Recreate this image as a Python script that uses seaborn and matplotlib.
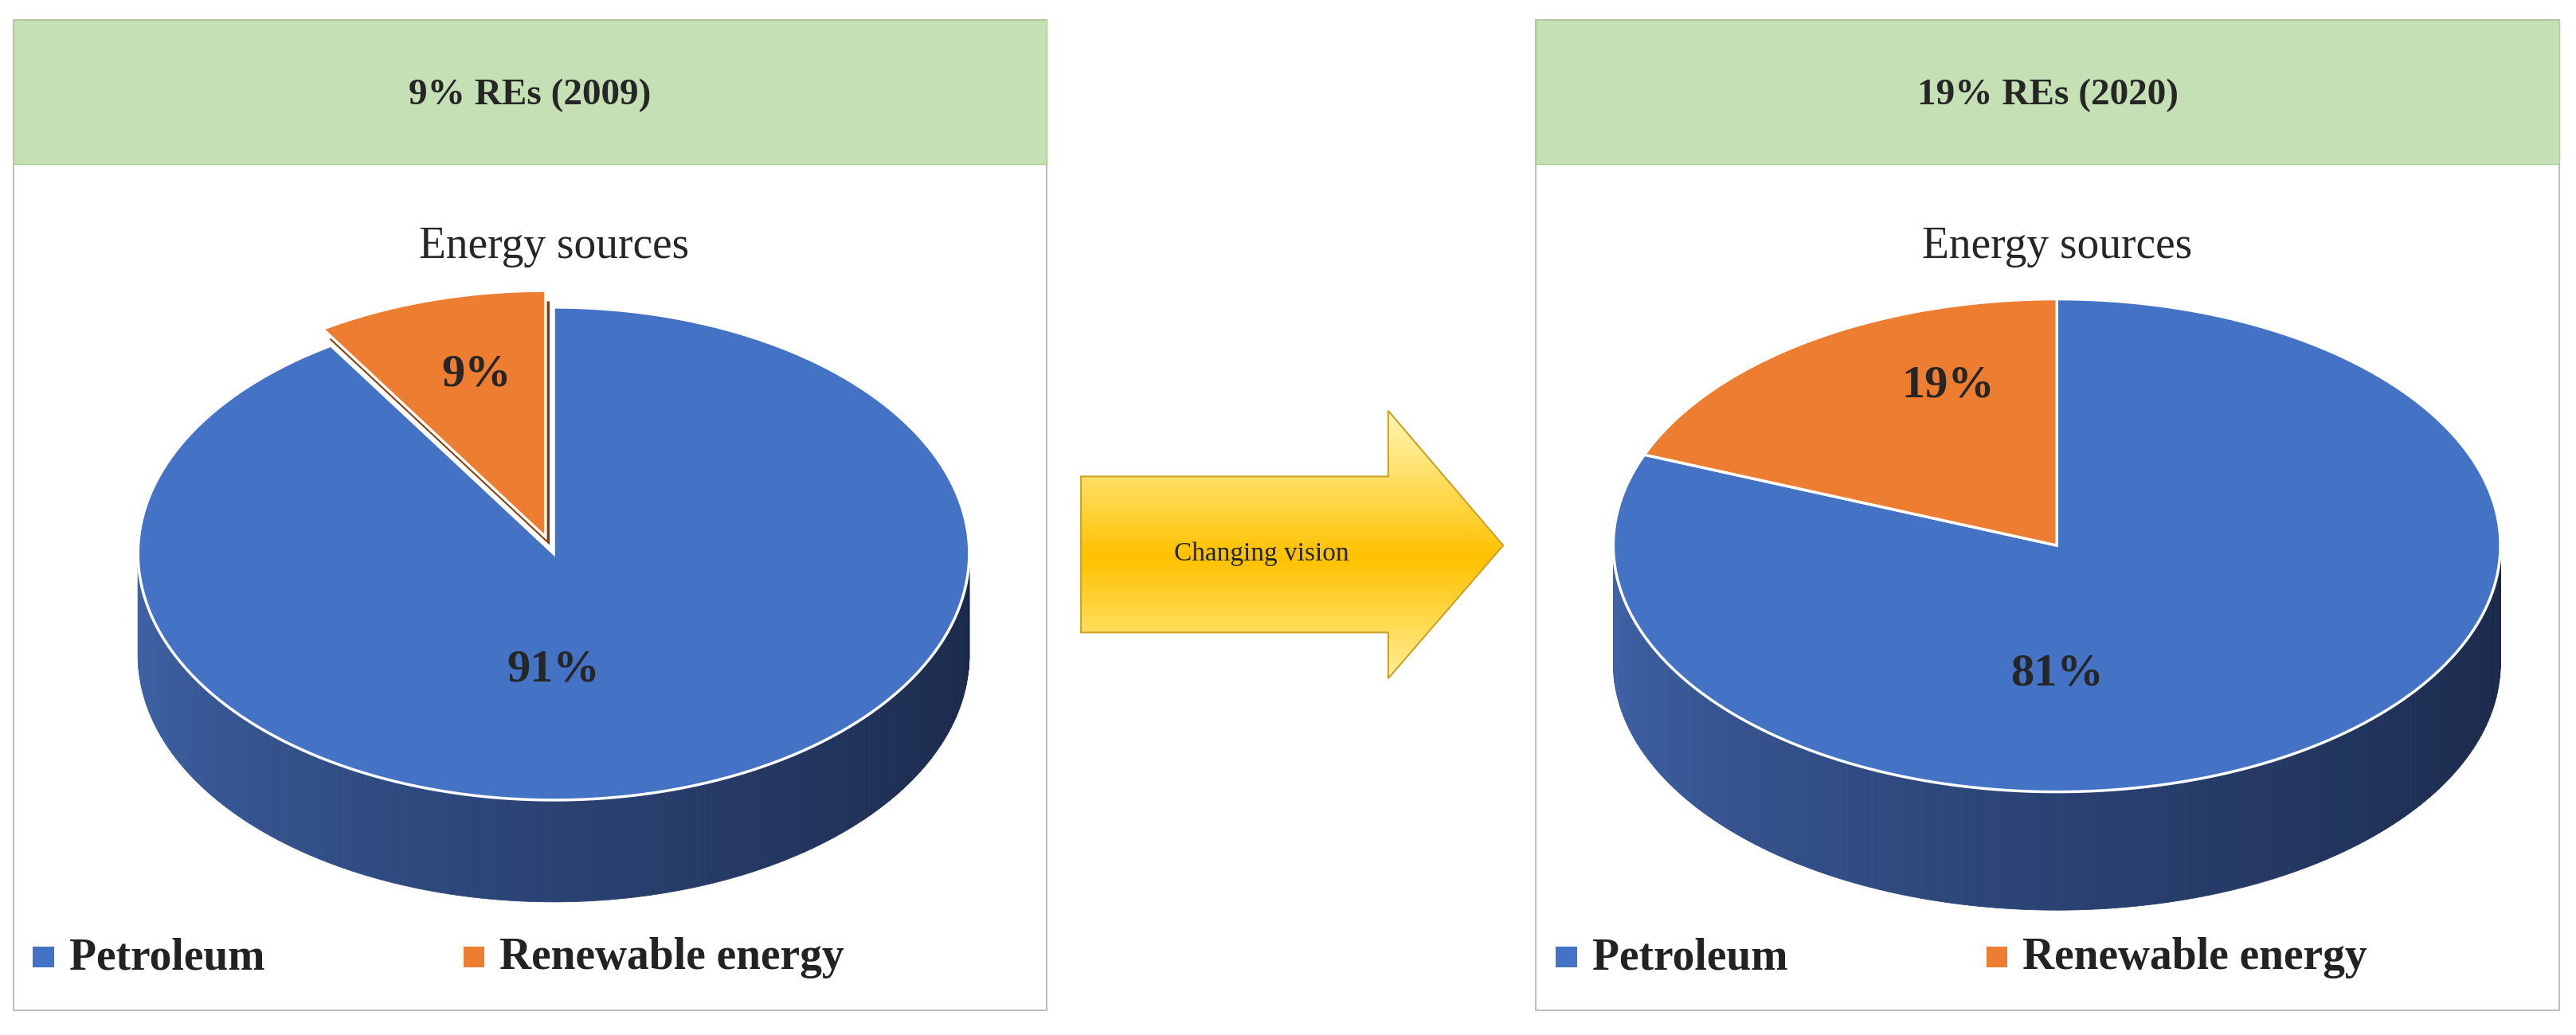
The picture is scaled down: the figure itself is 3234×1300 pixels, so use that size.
import numpy as np
import matplotlib.pyplot as plt
from matplotlib.patches import Polygon, Rectangle
from matplotlib.path import Path
import seaborn as sns

sns.set_theme(style="white")
plt.rcParams['font.family'] = ['Liberation Serif', 'DejaVu Serif']

# Data
categories = ["Petroleum", "Renewable energy"]
shares_2009 = [91, 9]
shares_2020 = [81, 19]
panel_titles = ["9% REs (2009)", "19% REs (2020)"]
chart_title = "Energy sources"
arrow_text = "Changing vision"

colors = ["#4472C4", "#ED7D31"]
side_colors = ["#1F3160", "#843C0C"]


def ell(cx, cy, rx, ry, t):
    return cx + rx * np.cos(t), cy - ry * np.sin(t)


def wedge_pts(cx, cy, rx, ry, t0, t1):
    t = np.linspace(t0, t1, 200)
    x, y = ell(cx, cy, rx, ry, t)
    return np.column_stack([np.r_[cx, x], np.r_[cy, y]])


def pie3d(ax, values, cx, cy, rx, ry, depth, explode=0.0):
    # side band (front half), gradient from left to right
    n = 160
    ts = np.linspace(np.pi, 2 * np.pi, n + 1)
    c0 = np.array([0x40, 0x64, 0xAA]) / 255
    c1 = np.array([0x1A, 0x28, 0x48]) / 255
    for i in range(n):
        a, b = ts[i], ts[i + 1]
        x0, y0 = ell(cx, cy, rx, ry, a)
        x1, y1 = ell(cx, cy, rx, ry, b)
        f = i / n
        col = c0 * (1 - f) ** 1.2 + c1 * (1 - (1 - f) ** 1.2)
        ax.add_patch(Polygon([[x0, y0], [x1, y1], [x1, y1 + depth], [x0, y0 + depth]],
                             closed=True, fc=col, ec=col, lw=0.6, zorder=1))
    total = sum(values)
    # petroleum: clockwise from 90 deg; renewable: counter-clockwise from 90 deg
    frac_r = values[1] / total
    t_r0, t_r1 = np.pi / 2, np.pi / 2 + 2 * np.pi * frac_r
    t_p0, t_p1 = t_r1, np.pi / 2 + 2 * np.pi
    ax.add_patch(Polygon(wedge_pts(cx, cy, rx, ry, t_p0, t_p1), closed=True,
                         fc=colors[0], ec="white", lw=2.5, zorder=3))
    mid = (t_r0 + t_r1) / 2
    dx, dy = explode * rx * np.cos(mid), -explode * ry * np.sin(mid)
    pts = wedge_pts(cx + dx, cy + dy, rx, ry, t_r0, t_r1)
    if explode > 0:
        side = pts.copy()
        side[:, 1] += 6
        side[:, 0] += 3
        ax.add_patch(Polygon(side, closed=True, fc=side_colors[1], ec="white", lw=1.5, zorder=2.5))
    ax.add_patch(Polygon(pts, closed=True, fc=colors[1], ec="white", lw=2.5, zorder=4))
    return t_r0, t_r1


def panel(ax, x0, x1, title, values, cx, cy, rx, ry, depth, explode, lab_r, lab_p):
    ax.add_patch(Rectangle((x0, 12), x1 - x0, 603, fc="white", ec="#BFBFBF", lw=1.5, zorder=0))
    ax.add_patch(Rectangle((x0, 12), x1 - x0, 88, fc="#C5E0B4", ec="#A9D18E", lw=1.0, zorder=0.5))
    ax.text((x0 + x1) / 2, 58, title, ha="center", va="center", fontsize=34, fontweight="bold")
    ax.text(cx, 150, chart_title, ha="center", va="center", fontsize=40)
    pie3d(ax, values, cx, cy, rx, ry, depth, explode)
    ax.text(lab_p[0], lab_p[1], f"{values[0]}%", ha="center", va="center",
            fontsize=42, fontweight="bold", zorder=6)
    ax.text(lab_r[0], lab_r[1], f"{values[1]}%", ha="center", va="center",
            fontsize=42, fontweight="bold", zorder=6)
    # legend
    lx = x0 + 12
    for i, cat in enumerate(categories):
        ax.add_patch(Rectangle((lx, 576), 13, 13, fc=colors[i], ec="none", zorder=5))
        ax.text(lx + 22, 583, cat, ha="left", va="center", fontsize=40, fontweight="bold", color="#222222")
        lx += 262


fig = plt.figure(figsize=(32.34, 13), dpi=100)
ax = fig.add_axes([0, 0, 1, 1])
ax.set_xlim(0, 1568)
ax.set_ylim(630, 0)
ax.axis("off")

panel(ax, 8, 637, panel_titles[0], shares_2009, 337, 337, 253, 150, 62, 0.07,
      (290, 228), (337, 408))
panel(ax, 935, 1558, panel_titles[1], shares_2020, 1252, 332, 270, 150, 72, 0.0,
      (1186, 235), (1252, 410))

# arrow with yellow gradient
arrow = np.array([[658, 290], [845, 290], [845, 250], [915, 332], [845, 413],
                  [845, 385], [658, 385]])
poly = Polygon(arrow, closed=True, fc="none", ec="#C9A227", lw=1.5, zorder=3)
ax.add_patch(poly)
g = np.linspace(0, 1, 256)
prof = 1 - np.abs(g - 0.55) / 0.55
grad = np.zeros((256, 1, 3))
top = np.array([1.0, 0.97, 0.72])
midc = np.array([1.0, 0.76, 0.0])
grad[:, 0, :] = top[None, :] * (1 - prof[:, None]) + midc[None, :] * prof[:, None]
im = ax.imshow(grad, extent=[658, 915, 413, 250], aspect="auto", zorder=2)
im.set_clip_path(Path(arrow), transform=ax.transData)
ax.set_xlim(0, 1568)
ax.set_ylim(630, 0)
ax.text(768, 337, arrow_text, ha="center", va="center", fontsize=24, zorder=4)

fig.savefig("out.png", dpi=100)
